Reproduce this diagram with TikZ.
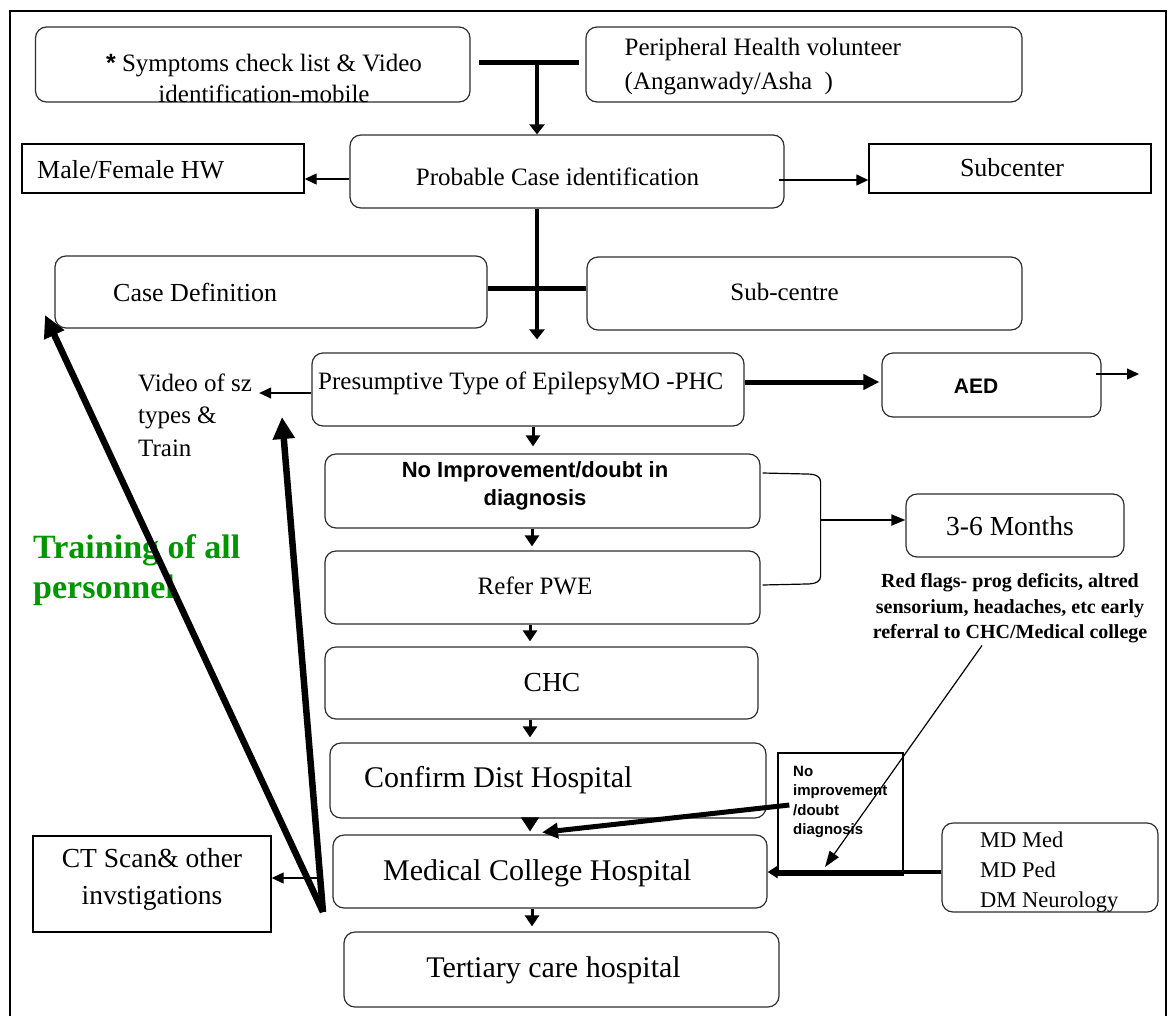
\documentclass[tikz,border=0pt]{standalone}
\usepackage{fontspec}
\setmainfont{Liberation Serif}
\newfontfamily\sansfam{Liberation Sans}
\usetikzlibrary{arrows.meta}
\definecolor{boxline}{RGB}{45,45,45}
\definecolor{traingreen}{RGB}{0,150,0}
\newcommand\fsz[2]{\fontsize{#1}{#2}\selectfont}

\begin{document}
\begin{tikzpicture}[x=1pt,y=-1pt,
  rbox/.style={draw=boxline, line width=1.2pt, rounded corners=11pt, inner sep=0pt},
  sbox/.style={draw=black, line width=1.4pt, inner sep=0pt},
  txt/.style={inner sep=0pt, align=center},
  ltxt/.style={inner sep=0pt, align=left},
  thinarr/.style={line width=1.3pt, -{Triangle[length=12pt,width=11pt]}},
  bar/.style={line width=5pt},
  downarr/.style={line width=4pt, -{Triangle[length=10pt,width=15pt]}},
  stepdown/.style={line width=3pt, -{Triangle[length=11pt,width=14pt]}},
  bigarr/.style={line width=6.5pt, -{Triangle[length=22pt,width=21pt]}},
  boldarr/.style={line width=5pt, -{Triangle[length=16pt,width=15pt]}}
]
\useasboundingbox (0,0) rectangle (1172,1015);

% outer frame (open at the bottom of the page)
\draw[line width=1.5pt] (10,1030) -- (10,11) -- (1166,11) -- (1166,1030);

% ---------- boxes ----------
\node[rbox, minimum width=434.5pt, minimum height=75pt] (sym)   at (252.75,64.5) {};
\node[rbox, minimum width=436pt,   minimum height=75pt] (phv)   at (804,64.5) {};
\node[rbox, minimum width=434pt,   minimum height=73pt] (prob)  at (567,171.5) {};
\node[sbox, minimum width=282pt,   minimum height=49pt] (mf)    at (163,168.5) {};
\node[sbox, minimum width=282pt,   minimum height=49pt] (sub)   at (1010,168.5) {};
\node[rbox, minimum width=432pt,   minimum height=72pt] (cdef)  at (271,292) {};
\node[rbox, minimum width=435pt,   minimum height=73pt] (subc)  at (804.5,293.5) {};
\node[rbox, minimum width=432pt,   minimum height=73pt] (pres)  at (528,389.5) {};
\node[rbox, minimum width=219pt,   minimum height=64pt] (aed)   at (991.5,385) {};
\node[rbox, minimum width=435pt,   minimum height=74pt] (noimp) at (542.5,491) {};
\node[rbox, minimum width=435pt,   minimum height=73pt] (refer) at (542.5,587.5) {};
\node[rbox, minimum width=433pt,   minimum height=72pt] (chc)   at (541.5,683) {};
\node[rbox, minimum width=436pt,   minimum height=75pt] (conf)  at (548,780.5) {};
\node[rbox, minimum width=434pt,   minimum height=73pt] (medc)  at (550,871.5) {};
\node[rbox, minimum width=435pt,   minimum height=75pt] (tert)  at (561.5,969.5) {};
\node[sbox, minimum width=238pt,   minimum height=96pt] (ct)    at (152,884) {};
\node[rbox, minimum width=218pt,   minimum height=63pt] (months) at (1015,525.5) {};
\node[sbox, minimum width=125pt,   minimum height=120pt] (noimp2) at (840.5,813) {};
\node[rbox, minimum width=216pt,   minimum height=89pt] (md)    at (1050,867.5) {};

% ---------- texts ----------
\node[txt, font=\fsz{25}{31}] (tsym) at (264,78.5)
  {{\sansfam\bfseries *} Symptoms check list \& Video\\identification-mobile};
\node[ltxt, font=\fsz{25}{34}, anchor=west] (tphv) at (624.5,67)
  {Peripheral Health volunteer\\(Anganwady/Asha\ \ )};
\node[txt, font=\fsz{25}{30}] (tprob) at (557.5,177) {Probable Case identification};
\node[ltxt, font=\fsz{26}{30}, anchor=west] (tmf) at (37,170) {Male/Female HW};
\node[txt, font=\fsz{26}{30}] (tsub) at (1012,168) {Subcenter};
\node[ltxt, font=\fsz{26}{30}, anchor=west] (tcdef) at (113,292) {Case Definition};
\node[txt, font=\fsz{25}{30}] (tsubc) at (784.5,292) {Sub-centre};
\node[ltxt, font=\fsz{25}{30}, anchor=west] (tpres) at (318,383) {Presumptive Type of EpilepsyMO -PHC};
\node[txt, font=\sansfam\bfseries\fsz{21}{25}] (taed) at (976,386) {AED};
\node[ltxt, font=\fsz{25}{32.5}, anchor=west] (tvideo) at (138,415) {Video of sz\\types \&\\Train};
\node[txt, font=\sansfam\bfseries\fsz{22}{28}] (tnoimp) at (535,486) {No Improvement/doubt in\\diagnosis};
\node[txt, font=\fsz{25}{30}] (trefer) at (535,586) {Refer PWE};
\node[txt, font=\fsz{27.5}{32}] (tchc) at (552,683) {CHC};
\node[ltxt, font=\fsz{30}{34}, anchor=west] (tconf) at (364,780) {Confirm Dist Hospital};
\node[ltxt, font=\fsz{30}{34}, anchor=west] (tmedc) at (383,873) {Medical College Hospital};
\node[txt, font=\fsz{30}{34}] (ttert) at (553.5,970) {Tertiary care hospital};
\node[txt, font=\fsz{27.5}{37}] (tct) at (152,879) {CT Scan\& other\\invstigations};
\node[txt, font=\fsz{27.5}{32}] (tmonths) at (1010,526) {3-6 Months};
\node[txt, font=\bfseries\fsz{20}{25.5}] (tred) at (1010,608.5)
  {Red flags- prog deficits, altred\\sensorium, headaches, etc early\\referral to CHC/Medical college};
\node[ltxt, font=\sansfam\bfseries\fsz{15}{19.5}, anchor=west] (tnoimp2) at (793,802)
  {No\\improvement\\/doubt\\diagnosis};
\node[ltxt, font=\fsz{22.5}{30}, anchor=west] (tmd) at (980,872) {MD Med\\MD Ped\\DM Neurology};
\node[ltxt, font=\bfseries\fsz{34}{40}, text=traingreen, anchor=west] (ttrain) at (33,570)
  {Training of all\\personnel};

% ---------- connectors ----------
\coordinate (j1) at (537,62);
\draw[bar, shorten <=8pt, shorten >=6pt] (sym.east |- j1) -- (phv.west |- j1);
\draw[downarr] (j1) -- (j1 |- prob.north);

\coordinate (j2) at (537,288);
\draw[bar] (cdef.east |- j2) -- (subc.west |- j2);
\draw[downarr, shorten >=13pt] (prob.south -| j2) -- (pres.north -| j2);

\draw[thinarr] ([yshift=-7.5pt]prob.west) -- ([yshift=-10.5pt]mf.east);
\draw[thinarr] ([xshift=-6pt,yshift=-8.5pt]prob.east) -- ([yshift=-11.5pt]sub.west);

\draw[boldarr] ([yshift=7.5pt]pres.east) -- ([xshift=-2pt,yshift=3pt]aed.west);
\coordinate (aedout) at (1139,374);
\draw[thinarr] ([xshift=-6pt,yshift=11pt]aed.east) -- (aedout);
\draw[thinarr] ([yshift=-3.5pt]pres.west) -- ([xshift=7pt,yshift=22pt]tvideo.east);

% main column
\draw[stepdown] ([xshift=5pt]pres.south) -- ([xshift=-9.5pt,yshift=7pt]noimp.north);
\draw[stepdown] ([xshift=-10.5pt]noimp.south) -- ([xshift=-10.5pt,yshift=4pt]refer.north);
\draw[stepdown] ([xshift=-12.5pt]refer.south) -- ([xshift=-11.5pt,yshift=5pt]chc.north);
\draw[stepdown] ([xshift=-11.5pt]chc.south) -- ([xshift=-18pt,yshift=5pt]conf.north);
\draw[line width=1pt, -{Triangle[length=14pt,width=18pt]}] ([xshift=-18pt]conf.south) -- ([xshift=-20pt,yshift=3pt]medc.north);
\draw[stepdown] ([xshift=-18pt]medc.south) -- ([xshift=-29.5pt,yshift=5pt]tert.north);
\draw[thinarr] ([xshift=-12pt,yshift=-6.5pt]medc.west) -- ([yshift=6pt]ct.east);

% follow-up bracket
\draw[line width=1.2pt] ([xshift=2pt,yshift=18pt]noimp.east) -- ++(44,1)
  .. controls +(10,0) and +(0,-5) .. ++(14,8) -- ++(0,94)
  .. controls +(0,5) and +(10,0) .. ++(-14,8) -- ([xshift=2pt,yshift=2.5pt]refer.east);
\coordinate (brk) at (820,520);
\draw[line width=2pt, -{Triangle[length=14pt,width=11pt]}] (brk) -- (brk -| months.west);

% red flags and referral
\coordinate (rfend) at (825,867);
\draw[line width=1.2pt, -{Triangle[length=16pt,width=11pt]}] ([xshift=-28pt,yshift=-2pt]tred.south) -- (rfend);
\draw[boldarr] ([xshift=12pt,yshift=8pt]noimp2.west) -- ([xshift=-8pt,yshift=2pt]medc.north);
\draw[line width=5pt] (noimp2.south west) -- (noimp2.south east);
\draw[line width=3.5pt, -{Triangle[length=10pt,width=12pt]}] ([yshift=-4.5pt]md.west) -- ([yshift=-0.5pt]medc.east);

% training arrows
\coordinate (conv) at (323,912);
\coordinate (tipA) at (45,315);
\coordinate (tipB) at (282,417);
\draw[bigarr] (conv) -- (tipA);
\draw[bigarr] (conv) -- (tipB);
\end{tikzpicture}
\end{document}
